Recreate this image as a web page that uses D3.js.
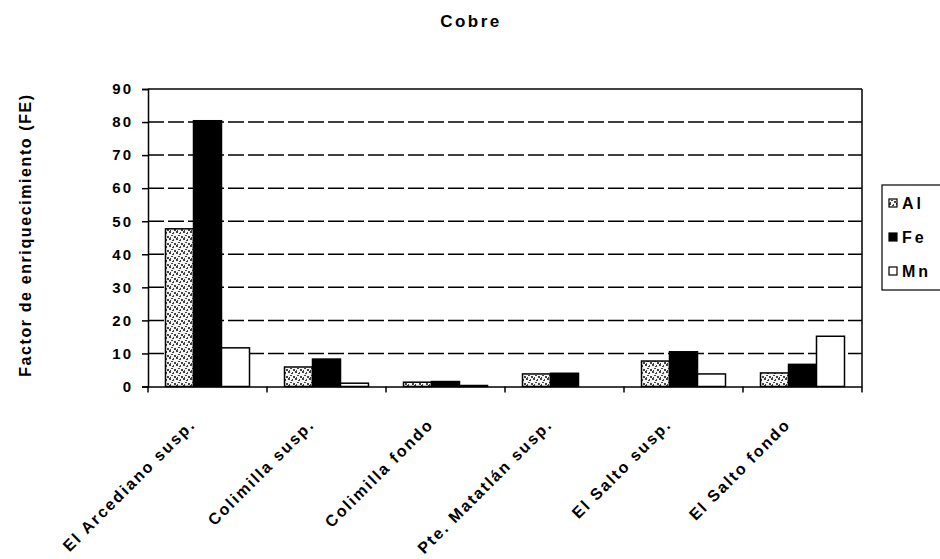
<!DOCTYPE html>
<html>
<head>
<meta charset="utf-8">
<script src="https://cdn.jsdelivr.net/npm/d3@7"></script>
<style>
  html, body { margin: 0; padding: 0; background: #fff; }
  svg { display: block; font-family: "Liberation Sans", Arial, sans-serif; }
</style>
</head>
<body>
<svg id="chart" width="940" height="559"></svg>
<script>
const categories = ["El Arcediano susp.", "Colimilla susp.", "Colimilla fondo", "Pte. Matatlán susp.", "El Salto susp.", "El Salto fondo"];
const seriesNames = ["Al", "Fe", "Mn"];
const alValues = [47.7, 5.9, 1.3, 3.8, 7.7, 4.1];
const feValues = [80.4, 8.3, 1.5, 4.0, 10.5, 6.7];
const mnValues = [11.7, 1.0, 0.3, 0.0, 3.8, 15.2];
const yTicks = [0, 10, 20, 30, 40, 50, 60, 70, 80, 90];
const titleText = "Cobre";
const yLabel = "Factor de enriquecimiento (FE)";

(function () {
const seriesValues = { Al: alValues, Fe: feValues, Mn: mnValues };
const rows = categories.map((c, i) => ({ cat: c, vals: seriesNames.map(s => ({ s, v: seriesValues[s][i] })) }));

const svg = d3.select("#chart");
const defs = svg.append("defs");
const pat = defs.append("pattern").attr("id", "alPat").attr("patternUnits", "userSpaceOnUse")
  .attr("width", 7).attr("height", 7);
pat.append("rect").attr("width", 7).attr("height", 7).attr("fill", "#f4f4f4");
[[0,0,2,2],[4,1,1,2],[2,4,2,1],[5,5,2,2],[1,6,1,1],[3,2,1,1]].forEach(d =>
  pat.append("rect").attr("x", d[0]).attr("y", d[1]).attr("width", d[2]).attr("height", d[3]).attr("fill", "#444"));

const fills = { Al: "url(#alPat)", Fe: "#000", Mn: "#fff" };

const pLeft = 148, pRight = 862, pTop = 89, pBottom = 386.5;
const x0 = d3.scaleBand().domain(categories).range([pLeft, pRight]).padding(0);
const x1 = d3.scaleBand().domain(seriesNames).range([0, x0.bandwidth()]).paddingInner(0).paddingOuter(0.625);
const y = d3.scaleLinear().domain([0, 90]).range([pBottom, pTop]);

// title
svg.append("text").attr("x", 471).attr("y", 27).attr("text-anchor", "middle")
  .attr("font-size", 17).attr("font-weight", "bold").attr("letter-spacing", "2.5px").text(titleText);

// gridlines
svg.append("g").selectAll("line").data(yTicks.filter(t => t > 0)).join("line")
  .attr("x1", pLeft).attr("x2", pRight).attr("y1", d => y(d)).attr("y2", d => y(d))
  .attr("stroke", "#000").attr("stroke-width", 1.5)
  .attr("stroke-dasharray", d => d === 90 ? null : "16,4");

// right border
svg.append("line").attr("x1", pRight).attr("x2", pRight).attr("y1", pTop).attr("y2", pBottom)
  .attr("stroke", "#000").attr("stroke-width", 1.5);

// bars
const groups = svg.append("g").selectAll("g").data(rows).join("g")
  .attr("transform", d => `translate(${x0(d.cat)},0)`);
groups.selectAll("rect").data(d => d.vals).join("rect")
  .attr("x", d => x1(d.s)).attr("width", x1.bandwidth())
  .attr("y", d => y(d.v)).attr("height", d => y(0) - y(d.v))
  .attr("fill", d => fills[d.s]).attr("stroke", "#000").attr("stroke-width", 1.5);

// y axis
const yAxis = svg.append("g").attr("transform", `translate(${pLeft},0)`)
  .call(d3.axisLeft(y).tickValues(yTicks).tickSize(6).tickPadding(9));
yAxis.select(".domain").attr("stroke-width", 1.5);
yAxis.selectAll(".tick line").attr("stroke-width", 1.5);
yAxis.selectAll(".tick text").attr("font-size", 15).attr("font-weight", "bold")
  .attr("font-family", "'Liberation Sans', Arial, sans-serif").attr("letter-spacing", "2px").attr("fill", "#000");

// x axis
const xAxis = svg.append("g").attr("transform", `translate(0,${pBottom})`)
  .call(d3.axisBottom(x0).tickSize(0).tickFormat(""));
xAxis.select(".domain").attr("stroke-width", 1.5);
const seps = categories.map(c => x0(c)).concat([pRight]);
svg.append("g").selectAll("line").data(seps).join("line")
  .attr("x1", d => d).attr("x2", d => d).attr("y1", pBottom).attr("y2", pBottom + 6)
  .attr("stroke", "#000").attr("stroke-width", 1.5);

// x labels
svg.append("g").selectAll("text").data(categories).join("text")
  .attr("transform", d => `translate(${x0(d) + x0.bandwidth() / 2 - 11},${pBottom + 39}) rotate(-45)`)
  .attr("text-anchor", "end").attr("font-size", 16).attr("font-weight", "bold")
  .attr("letter-spacing", "2px").text(d => d);

// y label
svg.append("text").attr("transform", "translate(31,235) rotate(-90)")
  .attr("text-anchor", "middle").attr("font-size", 16).attr("font-weight", "bold")
  .attr("letter-spacing", "1.6px").text(yLabel);

// legend
const lg = svg.append("g");
lg.append("rect").attr("x", 882).attr("y", 185).attr("width", 70).attr("height", 105)
  .attr("fill", "#fff").attr("stroke", "#000").attr("stroke-width", 1.2);
const ly = d3.scalePoint().domain(seriesNames).range([203, 271]);
lg.selectAll("rect.sw").data(seriesNames).join("rect").attr("class", "sw")
  .attr("x", 889).attr("y", d => ly(d) - 4).attr("width", 8).attr("height", 8)
  .attr("fill", d => fills[d]).attr("stroke", "#000").attr("stroke-width", 1.2);
lg.selectAll("text.lt").data(seriesNames).join("text").attr("class", "lt")
  .attr("x", 902).attr("y", d => ly(d)).attr("dy", "0.36em")
  .attr("font-size", 16).attr("font-weight", "bold").attr("letter-spacing", "3px").text(d => d);
})();
</script>
</body>
</html>
